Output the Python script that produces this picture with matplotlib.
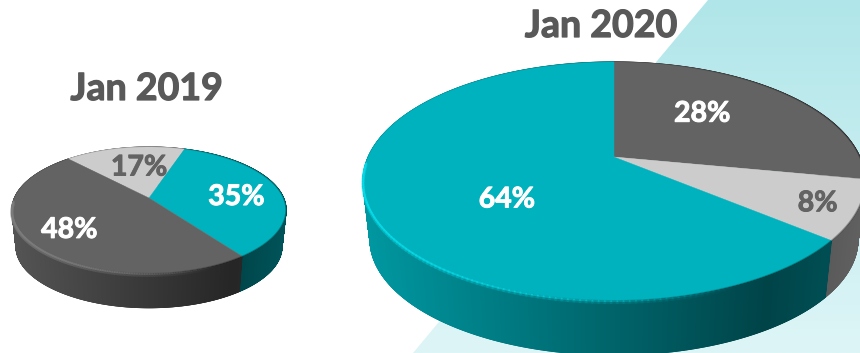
import numpy as np
import matplotlib
matplotlib.use("Agg")
import matplotlib.pyplot as plt
import matplotlib.patheffects as pe
from matplotlib.patches import Polygon
from matplotlib.collections import LineCollection, PolyCollection
from matplotlib.colors import to_rgb

# Shares per survey date, clockwise from the starting angle
titles = ["Jan 2019", "Jan 2020"]
shares_2019 = [17, 35, 48]
shares_2020 = [28, 8, 64]
colors_2019 = ["#cccccc", "#00b2bd", "#636363"]
colors_2020 = ["#636363", "#cccccc", "#00b2bd"]
text_2019 = ["#636363", "#ffffff", "#ffffff"]
text_2020 = ["#ffffff", "#636363", "#ffffff"]

W, H = 860, 353
fig = plt.figure(figsize=(W / 100, H / 100), dpi=100)
ax = fig.add_axes([0, 0, 1, 1])
ax.axis("off")
FONT = "Lato"


def project(r, theta, g, bottom=False):
    """Perspective projection of a point on the pie disc to canvas pixels."""
    x, y = r * np.cos(theta), r * np.sin(theta)
    w = 1 + g["k"] * y
    s = g["s"] if bottom else 1.0
    dy = g["depth"] if bottom else 0.0
    return g["cx"] + s * g["a"] * x / w, g["cy"] + dy - s * g["b"] * y / w


def side_shade(t):
    """Brightness of the pie wall across its width (0 = left, 1 = right)."""
    return np.interp(t, [0, 0.8, 1], [0.86, 0.38, 0.48])


def heavy(color, width):
    """Thicken glyphs slightly with an outline in their own colour."""
    return [pe.withStroke(linewidth=width, foreground=color)]


def draw_pie(shares, colors, txt_colors, g, label_r, nudges):
    spans = np.radians(np.array(shares) * 3.6)
    starts = np.radians(g["start"]) - np.concatenate([[0], np.cumsum(spans)[:-1]])
    left = g["cx"] - g["a"] * 1.03
    width = 2 * g["a"] * 1.03
    # Extruded wall: thin quads per slice, painted back to front
    quads, shades, depth_keys = [], [], []
    for th0, sp, col in zip(starts, spans, colors):
        base = np.array(to_rgb(col))
        th = np.linspace(th0, th0 - sp, max(int(sp * 400), 8))
        xt, yt = project(1, th, g)
        xb, yb = project(1, th, g, bottom=True)
        for i in range(len(th) - 1):
            quads.append([(xt[i], yt[i]), (xt[i + 1], yt[i + 1]), (xb[i + 1], yb[i + 1]), (xb[i], yb[i])])
            t = ((xt[i] + xt[i + 1] + xb[i] + xb[i + 1]) / 4 - left) / width
            shades.append(base * side_shade(t))
            depth_keys.append(np.sin((th[i] + th[i + 1]) / 2))
    order = np.argsort(depth_keys)[::-1]
    ax.add_collection(PolyCollection([quads[i] for i in order],
                                     facecolors=[shades[i] for i in order],
                                     edgecolors=[shades[i] for i in order],
                                     linewidths=0.8, zorder=2))
    # Top face
    for th0, sp, col in zip(starts, spans, colors):
        th = np.linspace(th0, th0 - sp, 160)
        xt, yt = project(1, th, g)
        ax.add_patch(Polygon(np.r_[[[g["cx"], g["cy"]]], np.c_[xt, yt]], closed=True,
                             fc=col, ec=col, lw=0.3, zorder=3))
    # Bevel along the rim: bright on the lit front-left, dark on the far side
    for th0, sp, col in zip(starts, spans, colors):
        th = np.linspace(th0, th0 - sp, 200)
        xt, yt = project(1, th, g)
        t = (xt - left) / width
        base = np.array(to_rgb(col))
        front = np.sin(th) < -0.05
        glow = np.clip(base * 1.18 + 0.03, 0, 1)
        rgba = np.zeros((len(th), 4))
        rgba[:, :3] = glow
        rgba[:, 3] = np.where(front, np.clip(1 - t / 0.75, 0, 1) * 0.95, 0)
        for off, lw, f in ((1.0, 1.4, 1.0), (2.4, 2.4, 0.35)):
            c = rgba.copy()
            c[:, 3] *= f
            pts = np.c_[xt, yt + off]
            segs = np.stack([pts[:-1], pts[1:]], axis=1)
            ax.add_collection(LineCollection(segs, colors=c[:-1], linewidths=lw,
                                             zorder=3.2, capstyle="round"))
        dark = np.zeros((len(th), 4))
        dark[:, 3] = np.where(t > 0.6, np.clip((t - 0.6) / 0.4, 0, 1) * 0.3, 0)
        pts = np.c_[xt, yt]
        segs = np.stack([pts[:-1], pts[1:]], axis=1)
        ax.add_collection(LineCollection(segs, colors=dark[:-1], linewidths=1.0, zorder=3.3))
    # Percentage labels
    for th0, sp, share, tc, r, (dx, dy) in zip(starts, spans, shares, txt_colors, label_r, nudges):
        lx, ly = project(r, th0 - sp / 2, g)
        ax.text(lx + dx, ly + dy + 2, f"{share}%", color=tc, fontsize=g["fs"], fontweight="bold",
                family=FONT, ha="center", va="center", zorder=5, path_effects=heavy(tc, 0.7))
    ax.text(g["title_x"], g["title_y"], g["title"], color="#595959", fontsize=g["tfs"],
            fontweight="bold", family=FONT, ha="center", va="center", zorder=5,
            path_effects=heavy("#595959", 0.9))


# Diagonal tinted band behind the larger pie
band = Polygon([(708, 0), (W, 0), (W, H), (413, H)], closed=True, fc="none", ec="none",
               transform=ax.transData)
ax.add_patch(band)
tint = np.linspace(0, 1, 128)[:, None, None] * (np.array(to_rgb("#def5f7")) - np.array(to_rgb("#b0e6e9"))) + np.array(to_rgb("#b0e6e9"))
bg = ax.imshow(tint, extent=[0, W, H, 0], aspect="auto", zorder=1, interpolation="bilinear")
bg.set_clip_path(band)

geom_2019 = dict(cx=149, cy=198, a=134.5, b=60.7, k=0.19, s=0.97, depth=37, start=133,
                 fs=20.5, tfs=27, title=titles[0], title_x=146.5, title_y=89)
geom_2020 = dict(cx=614, cy=157, a=245.8, b=114.2, k=0.2017, s=0.972, depth=59, start=90,
                 fs=20.5, tfs=27, title=titles[1], title_x=601, title_y=26)

draw_pie(shares_2019, colors_2019, text_2019, geom_2019, [0.61, 0.655, 0.71],
         [(6, 0), (2, 3), (1, 0)])
draw_pie(shares_2020, colors_2020, text_2020, geom_2020, [0.58, 0.845, 0.52],
         [(-14, -6), (1, 0), (14, 14)])

ax.set_xlim(0, W)
ax.set_ylim(H, 0)
fig.savefig("out.png", dpi=100, facecolor="white")
